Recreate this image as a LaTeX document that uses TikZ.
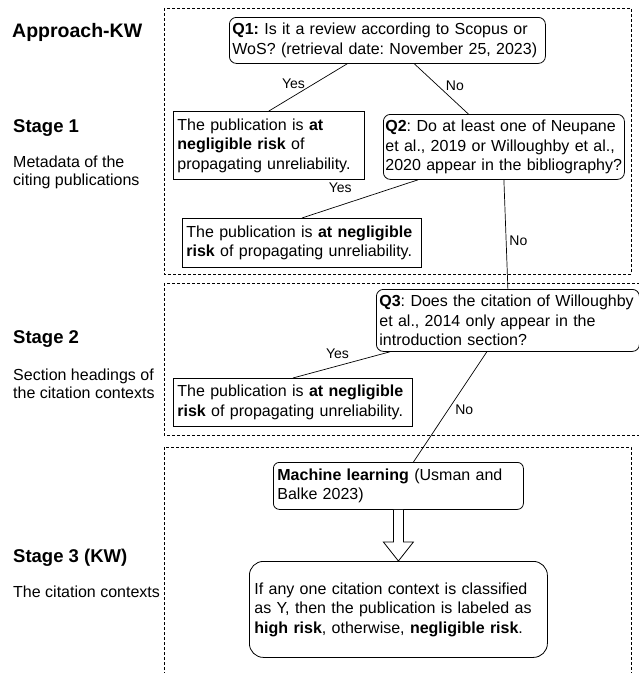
\documentclass[tikz,border=0pt]{standalone}
\usepackage{fontspec}
\setmainfont{Liberation Sans}
\usetikzlibrary{calc}
\usetikzlibrary{positioning}
\frenchspacing

\newcommand{\boxtext}{\fontsize{16}{19.5}\selectfont}
\newcommand{\sidetext}{\fontsize{16}{18}\selectfont}
\newcommand{\stagetext}{\fontsize{18.5}{22}\selectfont\bfseries}
\newcommand{\answertext}{\fontsize{14}{16}\selectfont}

\begin{document}
\begin{tikzpicture}[x=1pt,y=-1pt,
    question/.style={draw,rounded corners=7pt,anchor=north west,align=left,font=\boxtext,inner xsep=4pt,inner ysep=0pt,line width=0.8pt},
    outcome/.style={draw,rectangle,anchor=north west,align=left,font=\boxtext,inner xsep=4pt,inner ysep=0pt,line width=0.8pt},
    answer/.style={font=\answertext,inner sep=1pt},
    stagebox/.style={dash pattern=on 3pt off 2pt,line width=0.7pt},
    heading/.style={anchor=base west,font=\stagetext,inner sep=0pt},
    note/.style={anchor=base west,align=left,font=\sidetext,inner sep=0pt}]

  \clip[use as bounding box] (0,0) rectangle (639,673);

  \draw[stagebox] (164,8) rectangle (631,274);
  \draw[stagebox] (164,283) rectangle (650,435);
  \draw[stagebox] (164,680) -- (164,447) -- (631,447) -- (631,680);

  \node[heading,font=\fontsize{19.5}{23}\selectfont\bfseries] (approach) at (12,37) {Approach-KW};
  \node[heading] (stage1) at (13,132) {Stage 1};
  \node[note] (stage1note) at (13,185) {Metadata of the\\citing publications};
  \node[heading] (stage2) at (13,343) {Stage 2};
  \node[note] (stage2note) at (13,398) {Section headings of\\the citation contexts};
  \node[heading] (stage3) at (13,562) {Stage 3 (KW)};
  \node[note] (stage3note) at (13,597) {The citation contexts};

  \node[question,text width=310pt,inner xsep=3pt,minimum height=46pt] (Q1) at (229,17)
    {\textbf{Q1:} Is it a review according to Scopus or\\WoS? (retrieval date: November 25, 2023)};
  \node[outcome,text width=183pt,minimum height=68pt] (R1) at (173,111)
    {The publication is \textbf{at}\\\textbf{negligible risk} of\\propagating unreliability.};
  \node[question,text width=237pt,inner xsep=2pt,minimum height=65pt] (Q2) at (383,114)
    {\textbf{Q2}: Do at least one of Neupane\\et al., 2019 or Willoughby et al.,\\2020 appear in the bibliography?};
  \node[outcome,text width=231pt,minimum height=49pt] (R2) at (182,218)
    {The publication is \textbf{at negligible}\\\textbf{risk} of propagating unreliability.};

  \node[question,text width=257pt,inner xsep=3pt,minimum height=62pt] (Q3) at (376,289)
    {\textbf{Q3}: Does the citation of Willoughby\\et al., 2014 only appear in the\\introduction section?};
  \node[outcome,text width=231pt,minimum height=48pt] (R3) at (173,378)
    {The publication is \textbf{at negligible}\\\textbf{risk} of propagating unreliability.};

  \node[question,rounded corners=6pt,text width=242pt,minimum height=47pt] (ML) at (273,462)
    {\textbf{Machine learning} (Usman and\\Balke 2023)};
  \node[question,rounded corners=14pt,text width=288pt,inner xsep=5pt,minimum height=96pt] (Res) at (249,561)
    {If any one citation context is classified\\as Y, then the publication is labeled as\\\textbf{high risk}, otherwise, \textbf{negligible risk}.};

  \path [draw,line width=0.7pt]
    ($(Q1.south west)!0.373!(Q1.south east)$) edge node[answer,pos=0.42,left=8pt] {Yes} (R1.north)
    ($(Q1.south west)!0.585!(Q1.south east)$) edge node[answer,pos=0.43,right=7pt] {No} ($(Q2.north west)!0.353!(Q2.north east)$)
    ($(Q2.south west)!0.145!(Q2.south east)$) edge node[answer,pos=0.67,above=11pt] {Yes} (R2.north)
    (Q2.south) edge node[answer,pos=0.56,right=2pt] {No} (Q3.north)
    ($(Q3.south west)!0.053!(Q3.south east)$) edge node[answer,pos=0.54,above=6pt] {Yes} (R3.north)
    ($(Q3.south west)!0.42!(Q3.south east)$) edge node[answer,pos=0.53,right=6pt] {No} ($(ML.north west)!0.56!(ML.north east)$);

  \draw[line width=0.8pt,fill=white] ($(ML.south)+(-5,0)$) -- ($(Res.north)+(-5,-19)$) -- ($(Res.north)+(-15,-19)$)
    -- (Res.north) -- ($(Res.north)+(15,-19)$) -- ($(Res.north)+(5,-19)$) -- ($(ML.south)+(5,0)$);

\end{tikzpicture}
\end{document}
